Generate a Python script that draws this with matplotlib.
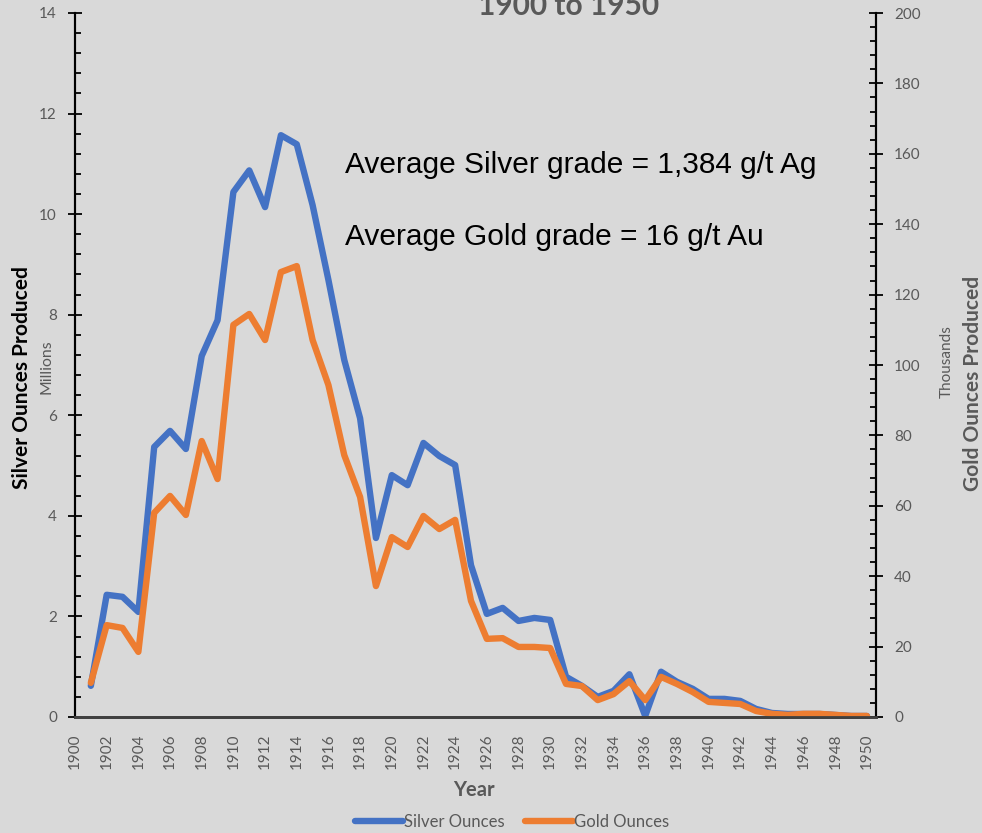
import matplotlib
matplotlib.use("Agg")
import matplotlib.pyplot as plt
from matplotlib.ticker import MultipleLocator

years = list(range(1901, 1951))
silver_millions = [0.62, 2.43, 2.39, 2.09, 5.37, 5.69, 5.33, 7.18, 7.89, 10.44,
                   10.87, 10.14, 11.57, 11.39, 10.18, 8.69, 7.10, 5.94, 3.56, 4.81,
                   4.61, 5.45, 5.19, 5.01, 3.02, 2.05, 2.17, 1.91, 1.97, 1.93,
                   0.80, 0.62, 0.40, 0.52, 0.85, 0.02, 0.90, 0.70, 0.56, 0.36,
                   0.36, 0.32, 0.16, 0.08, 0.06, 0.06, 0.06, 0.04, 0.02, 0.02]
gold_thousands = [9.7, 26.1, 25.3, 18.5, 58.0, 62.8, 57.4, 78.4, 67.6, 111.4,
                  114.5, 107.1, 126.4, 128.1, 107.1, 94.3, 74.4, 62.5, 37.2, 51.1,
                  48.3, 57.1, 53.4, 56.0, 33.0, 22.2, 22.4, 19.9, 19.9, 19.6,
                  9.4, 8.8, 4.8, 6.5, 10.2, 4.8, 11.4, 9.4, 7.1, 4.3,
                  4.0, 3.7, 1.7, 0.9, 0.6, 0.9, 0.9, 0.6, 0.3, 0.3]
x_ticks = list(range(1900, 1951, 2))

BG = "#d9d9d9"
BLUE = "#4472c4"
ORANGE = "#ed7d31"
GRAY = "#595959"

fig = plt.figure(figsize=(9.82, 8.33), dpi=100, facecolor=BG)
ax = fig.add_axes([75/982, 1-717/833, (876-75)/982, (717-13)/833])
ax.set_facecolor(BG)
ax2 = ax.twinx()

l1, = ax.plot(years, silver_millions, color=BLUE, lw=4.6, solid_joinstyle="round",
              solid_capstyle="round", label="Silver Ounces")
l2, = ax2.plot(years, gold_thousands, color=ORANGE, lw=4.6, solid_joinstyle="round",
               solid_capstyle="round", label="Gold Ounces")

ax.set_xlim(1900, 1950.57)
ax.set_ylim(0, 14)
ax2.set_ylim(0, 200)

ax.set_xticks(x_ticks)
ax.set_xticklabels([str(y) for y in x_ticks], rotation=90, fontsize=11,
                   color=GRAY, family="Lato")
ax.tick_params(axis="x", length=0, pad=12)

ax.yaxis.set_major_locator(MultipleLocator(2))
ax.yaxis.set_minor_locator(MultipleLocator(0.4))
ax2.yaxis.set_major_locator(MultipleLocator(20))
ax2.yaxis.set_minor_locator(MultipleLocator(4))
ax.tick_params(axis="y", which="major", direction="inout", length=10, width=1.3,
               color="black", labelsize=11, labelcolor=GRAY, pad=8)
ax.tick_params(axis="y", which="minor", direction="in", length=4, width=1.3, color="black")
ax2.tick_params(axis="y", which="major", direction="inout", length=10, width=1.3,
                color="black", labelsize=11, labelcolor=GRAY, pad=8)
ax2.tick_params(axis="y", which="minor", direction="in", length=4, width=1.3, color="black")
for lab in ax.get_yticklabels() + ax2.get_yticklabels():
    lab.set_family("Lato")

for a in (ax, ax2):
    a.spines["top"].set_visible(False)
    a.spines["left"].set_color("black")
    a.spines["right"].set_color("black")
    a.spines["left"].set_linewidth(1.5)
    a.spines["right"].set_linewidth(1.5)
    a.spines["bottom"].set_color("#404040")
    a.spines["bottom"].set_linewidth(2)

# axis labels
fig.text(22/982, 1-378/833, "Silver Ounces Produced", rotation=90, ha="center",
         va="center", fontsize=15, fontweight="bold", color="black", family="Lato")
fig.text(47/982, 1-367/833, "Millions", rotation=90, ha="center", va="center",
         fontsize=11.3, color=GRAY, family="Lato")
fig.text(947/982, 1-362/833, "Thousands", rotation=90, ha="center", va="center",
         fontsize=11, color=GRAY, family="Lato")
fig.text(973/982, 1-383/833, "Gold Ounces Produced", rotation=90, ha="center",
         va="center", fontsize=15, fontweight="bold", color=GRAY, family="Lato")
fig.text(474/982, 1-790/833, "Year", ha="center", va="center", fontsize=14.5,
         fontweight="bold", color=GRAY, family="Lato")

# title (partially cut at top)
fig.text(569/982, 1-15/833, "1900 to 1950", ha="center", va="baseline",
         fontsize=21.5, fontweight="bold", color=GRAY, family="Lato")

# annotations
fig.text(345/982, 1-165/833, "Average Silver grade = 1,384 g/t Ag", ha="left",
         va="center", fontsize=21.5, color="black", family="Liberation Sans")
fig.text(345/982, 1-237/833, "Average Gold grade = 16 g/t Au", ha="left",
         va="center", fontsize=21.5, color="black", family="Liberation Sans")

leg = fig.legend(handles=[l1, l2], loc="center", bbox_to_anchor=(512/982, 1-822/833),
                 ncol=2, frameon=False, handlelength=2.9,
                 handletextpad=0.05, columnspacing=1.2, prop={"family": "Lato", "size": 12})
for t in leg.get_texts():
    t.set_color(GRAY)

fig.savefig("out.png", dpi=100, facecolor=BG)
